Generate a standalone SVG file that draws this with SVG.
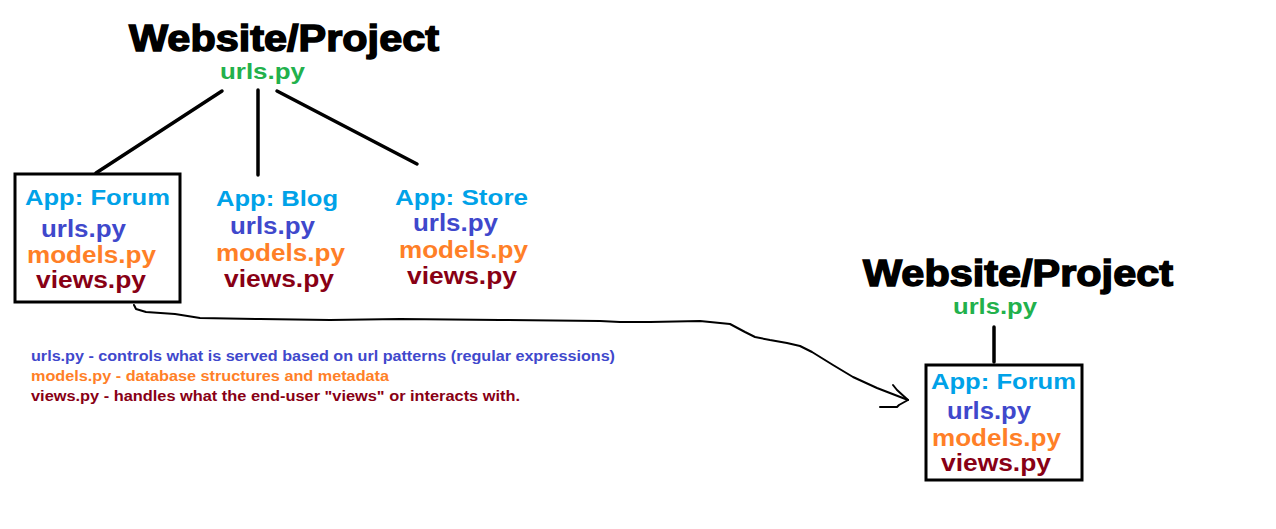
<svg xmlns="http://www.w3.org/2000/svg" width="1276" height="529" viewBox="0 0 1276 529">
<style>
text{font-family:"Liberation Sans",Arial,sans-serif;font-weight:bold}
.title{font-size:36px;fill:#000;stroke:#000;stroke-width:1.4}
.green{font-size:22px;fill:#22b14c}
.app{font-size:22px;fill:#00a2e8}
.urls{font-size:23px;fill:#3f48cc}
.models{font-size:23px;fill:#ff7f27}
.views{font-size:23px;fill:#880015}
.leg{font-size:14px}
.box{fill:none;stroke:#000;stroke-width:3}
.ln{fill:none;stroke:#000;stroke-width:3.5;stroke-linecap:round}
.curve{fill:none;stroke:#000;stroke-width:2;stroke-linejoin:round;stroke-linecap:round}
</style>
<rect width="1276" height="529" fill="#fff"/>
<g id="project1">
<text class="title" x="129" y="51" textLength="310" lengthAdjust="spacingAndGlyphs">Website/Project</text>
<text class="green" x="220" y="79" textLength="85" lengthAdjust="spacingAndGlyphs">urls.py</text>
</g>
<g id="forum1">
<rect class="box" x="15" y="174" width="165" height="128"/>
<text class="app" x="25" y="205" textLength="145" lengthAdjust="spacingAndGlyphs">App: Forum</text>
<text class="urls" x="41" y="237" textLength="85" lengthAdjust="spacingAndGlyphs">urls.py</text>
<text class="models" x="27" y="263" textLength="129" lengthAdjust="spacingAndGlyphs">models.py</text>
<text class="views" x="36" y="288" textLength="110" lengthAdjust="spacingAndGlyphs">views.py</text>
</g>
<g id="blog">
<text class="app" x="216" y="206" textLength="122" lengthAdjust="spacingAndGlyphs">App: Blog</text>
<text class="urls" x="230" y="234" textLength="85" lengthAdjust="spacingAndGlyphs">urls.py</text>
<text class="models" x="216" y="261" textLength="129" lengthAdjust="spacingAndGlyphs">models.py</text>
<text class="views" x="224" y="287" textLength="110" lengthAdjust="spacingAndGlyphs">views.py</text>
</g>
<g id="store">
<text class="app" x="395" y="205" textLength="133" lengthAdjust="spacingAndGlyphs">App: Store</text>
<text class="urls" x="413" y="231" textLength="85" lengthAdjust="spacingAndGlyphs">urls.py</text>
<text class="models" x="399" y="258" textLength="129" lengthAdjust="spacingAndGlyphs">models.py</text>
<text class="views" x="407" y="284" textLength="110" lengthAdjust="spacingAndGlyphs">views.py</text>
</g>
<g id="legend">
<text class="leg" x="31" y="361" fill="#3f48cc" textLength="584" lengthAdjust="spacingAndGlyphs">urls.py - controls what is served based on url patterns (regular expressions)</text>
<text class="leg" x="31" y="381" fill="#ff7f27" textLength="358" lengthAdjust="spacingAndGlyphs">models.py - database structures and metadata</text>
<text class="leg" x="31" y="401" fill="#880015" textLength="489" lengthAdjust="spacingAndGlyphs">views.py - handles what the end-user "views" or interacts with.</text>
</g>
<g id="project2">
<text class="title" x="863" y="286" textLength="310" lengthAdjust="spacingAndGlyphs">Website/Project</text>
<text class="green" x="953" y="314" textLength="84" lengthAdjust="spacingAndGlyphs">urls.py</text>
</g>
<g id="forum2">
<rect class="box" x="926" y="365" width="156" height="115"/>
<text class="app" x="931" y="389" textLength="145" lengthAdjust="spacingAndGlyphs">App: Forum</text>
<text class="urls" x="947" y="419" textLength="84" lengthAdjust="spacingAndGlyphs">urls.py</text>
<text class="models" x="932" y="446" textLength="129" lengthAdjust="spacingAndGlyphs">models.py</text>
<text class="views" x="941" y="471" textLength="110" lengthAdjust="spacingAndGlyphs">views.py</text>
</g>
<g id="connectors">
<line class="ln" x1="222" y1="91" x2="96" y2="173"/>
<line class="ln" x1="258" y1="90" x2="258" y2="175"/>
<line class="ln" x1="277" y1="91" x2="417" y2="164"/>
<line class="ln" x1="994" y1="327" x2="994" y2="362"/>
<path class="curve" d="M134,305 L136,309 L146,312 L175,314 L200,318 L260,319 L330,320 L400,319 L500,320 L600,321 L620,322 L650,322 L700,321 L720,323 L730,324 L745,332 L755,337 L770,340 L787,343 L800,346 L812,352 L833,365 L853,377 L877,388 L908,400"/>
<path class="curve" d="M893,385 L897,390 L908,400 L899,405 L897,407 L880,407"/>
</g>
</svg>
